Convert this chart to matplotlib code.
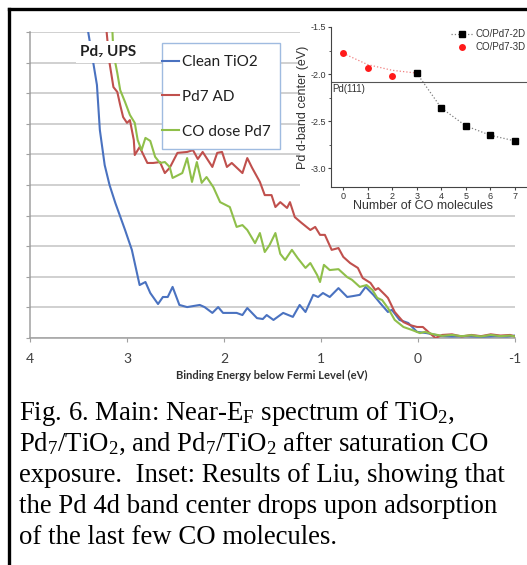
import matplotlib
matplotlib.use("Agg")
import matplotlib.pyplot as plt
from matplotlib.patches import Rectangle
from matplotlib.lines import Line2D

plt.rcParams['mathtext.fontset'] = 'custom'
plt.rcParams['mathtext.rm'] = 'Liberation Serif'
plt.rcParams['mathtext.it'] = 'Liberation Serif:italic'
plt.rcParams['axes.unicode_minus'] = False

W, H = 527, 565

# ---- main UPS spectra (binding energy in eV, intensity in gridline units) ----
clean_x = [3.43, 3.40, 3.31, 3.28, 3.23, 3.18, 3.12, 3.02, 2.95, 2.87,
           2.81, 2.76, 2.68, 2.63, 2.58, 2.53, 2.46, 2.38, 2.25, 2.20,
           2.12, 2.06, 2.01, 1.87, 1.81, 1.76, 1.66, 1.60, 1.56, 1.49,
           1.39, 1.29, 1.22, 1.16, 1.08, 1.03, 0.98, 0.91, 0.82, 0.73,
           0.67, 0.60, 0.54, 0.46, 0.39, 0.31, 0.27, 0.19, 0.10, 0.01,
           -0.09, -0.23, -0.35, -0.50, -0.65, -0.80, -0.92, -1.00]
clean_y = [11.0, 10.0, 8.27, 6.80, 5.65, 5.00, 4.41, 3.53, 2.88, 1.73,
           1.83, 1.47, 1.11, 1.34, 1.34, 1.67, 1.08, 1.01, 1.08, 1.01,
           0.82, 1.01, 0.82, 0.82, 0.75, 0.98, 0.65, 0.62, 0.75, 0.59,
           0.82, 0.69, 1.08, 0.85, 1.41, 1.34, 1.47, 1.34, 1.63, 1.34,
           1.37, 1.41, 1.67, 1.41, 1.14, 0.85, 0.92, 0.59, 0.49, 0.20,
           0.16, 0.07, 0.05, 0.06, 0.04, 0.06, 0.05, 0.08]

pd7_x = [3.24, 3.21, 3.18, 3.14, 3.10, 3.07, 3.04, 3.00, 2.97, 2.93,
         2.92, 2.87, 2.79, 2.73, 2.66, 2.61, 2.56, 2.48, 2.38, 2.32,
         2.27, 2.22, 2.12, 2.07, 2.02, 1.97, 1.92, 1.81, 1.76, 1.71,
         1.63, 1.58, 1.51, 1.47, 1.42, 1.35, 1.32, 1.27, 1.20, 1.11,
         1.06, 1.01, 0.96, 0.89, 0.82, 0.77, 0.70, 0.62, 0.57, 0.49,
         0.44, 0.41, 0.34, 0.31, 0.24, 0.15, 0.08, 0.01, -0.05, -0.12,
         -0.18, -0.25, -0.35, -0.45, -0.55, -0.65, -0.75, -0.85, -0.95, -1.00]
pd7_y = [11.0, 10.0, 8.99, 8.20, 8.04, 7.61, 7.22, 7.03, 7.12, 6.47,
         5.98, 6.24, 5.72, 5.72, 5.75, 5.39, 5.56, 6.05, 6.08, 6.14,
         5.85, 6.08, 5.59, 6.05, 6.08, 5.59, 5.72, 5.39, 5.88, 5.56,
         5.10, 4.67, 4.67, 4.28, 4.44, 4.25, 4.44, 3.95, 3.76, 3.53,
         3.63, 3.37, 3.37, 2.88, 2.94, 2.65, 2.45, 2.29, 1.96, 1.80,
         1.57, 1.63, 1.41, 1.31, 0.85, 0.52, 0.42, 0.36, 0.36, 0.16,
         0.00, 0.10, 0.12, 0.05, 0.10, 0.06, 0.12, 0.08, 0.10, 0.05]

co_x = [3.18, 3.15, 3.14, 3.10, 3.07, 3.02, 2.97, 2.92, 2.89, 2.85,
        2.81, 2.76, 2.71, 2.66, 2.61, 2.56, 2.53, 2.43, 2.38, 2.33,
        2.28, 2.23, 2.18, 2.11, 2.04, 1.94, 1.87, 1.81, 1.76, 1.68,
        1.63, 1.58, 1.53, 1.47, 1.42, 1.37, 1.30, 1.24, 1.16, 1.11,
        1.04, 1.01, 0.97, 0.91, 0.82, 0.73, 0.68, 0.60, 0.53, 0.47,
        0.42, 0.37, 0.31, 0.24, 0.15, 0.06, -0.02, -0.07, -0.15, -0.25,
        -0.35, -0.45, -0.55, -0.65, -0.75, -0.85, -0.95, -1.00]
co_y = [11.0, 10.0, 9.31, 8.66, 8.10, 7.71, 7.29, 7.03, 6.47, 6.14,
        6.54, 6.44, 5.92, 5.72, 5.75, 5.59, 5.23, 5.39, 5.88, 5.10,
        5.75, 5.07, 5.26, 4.93, 4.44, 4.28, 3.63, 3.69, 3.53, 3.10,
        3.43, 2.81, 3.04, 3.43, 2.75, 2.55, 2.88, 2.61, 2.29, 2.45,
        2.06, 1.83, 2.39, 2.22, 2.25, 1.99, 1.90, 1.67, 1.73, 1.57,
        1.31, 1.24, 0.98, 0.59, 0.36, 0.26, 0.16, 0.20, 0.13, 0.07,
        0.10, 0.06, 0.09, 0.05, 0.10, 0.06, 0.08, 0.05]

series_labels = ['Clean TiO2', 'Pd7 AD', 'CO dose Pd7']
series_colors = ['#4a72c0', '#c0504d', '#8fbf4a']
x_ticks = [4, 3, 2, 1, 0, -1]
x_ticklabels = ['4', '3', '2', '1', '0', '-1']

# ---- inset: d-band center vs number of CO ----
n_2d = [3, 4, 5, 6, 7]
d_2d = [-1.99, -2.36, -2.55, -2.65, -2.71]
n_3d = [0, 1, 2]
d_3d = [-1.78, -1.94, -2.02]
fit_3d_n = [0, 1, 2, 3]
fit_3d_d = [-1.78, -1.90, -1.96, -1.99]
pd111 = -2.08
inset_yticks = [-3.0, -2.5, -2.0, -1.5]
inset_xticks = [0, 1, 2, 3, 4, 5, 6, 7]

caption = [
    r'Fig. 6. Main: Near-E$_\mathrm{F}$ spectrum of TiO$_2$,',
    r'Pd$_7$/TiO$_2$, and Pd$_7$/TiO$_2$ after saturation CO',
    'exposure.  Inset: Results of Liu, showing that',
    'the Pd 4d band center drops upon adsorption',
    'of the last few CO molecules.',
]
caption_base = [420, 451, 482, 513, 544]

fig = plt.figure(figsize=(W / 100, H / 100), dpi=100)
fig.patch.set_facecolor('white')

# main axes
ax = fig.add_axes([30 / W, 1 - 338 / H, (515 - 30) / W, (338 - 32) / H])
for xs, ys, c in zip([clean_x, pd7_x, co_x], [clean_y, pd7_y, co_y], series_colors):
    ax.plot(xs, ys, color=c, lw=1.5, zorder=3)
ax.set_xlim(4, -1)
ax.set_ylim(0, 10)
ax.set_yticks(range(0, 11))
ax.set_yticklabels([])
ax.yaxis.grid(True, color='#c4c4c4', lw=1.1)
ax.set_axisbelow(True)
ax.set_xticks(x_ticks)
ax.set_xticklabels(x_ticklabels, fontsize=10, family='Lato', color='#404040')
ax.tick_params(axis='x', length=3, color='#a0a0a0', pad=8)
ax.tick_params(axis='y', length=3, color='#a0a0a0')
for s in ['top', 'right']:
    ax.spines[s].set_visible(False)
for s in ['left', 'bottom']:
    ax.spines[s].set_color('#a0a0a0')
    ax.spines[s].set_linewidth(1.1)

fig.text(272 / W, 1 - 375 / H, 'Binding Energy below Fermi Level (eV)',
         ha='center', va='center', fontsize=8, family='Lato',
         weight='bold', color='#303030')

# main legend (frame drawn by hand)
ax.add_patch(Rectangle((162 / W, 1 - 149 / H), 118 / W, 106 / H,
                       transform=fig.transFigure, facecolor='white',
                       edgecolor='#9fbbe0', lw=1.0, zorder=4, clip_on=False))
handles = [Line2D([], [], color=c, lw=1.5) for c in series_colors]
leg = ax.legend(handles, series_labels, loc='upper left',
                bbox_to_anchor=(162 / W, 1 - 55 / H),
                bbox_transform=fig.transFigure, frameon=False,
                prop={'family': 'Lato', 'size': 11}, handlelength=1.1,
                handletextpad=0.2, labelspacing=1.36, borderpad=0,
                borderaxespad=0)
leg.set_zorder(5)
for t in leg.get_texts():
    t.set_color('#202020')

fig.text(80 / W, 1 - 52 / H, 'Pd\u2087 UPS', ha='left', va='center',
         fontsize=11, weight='bold', family=['Lato', 'DejaVu Sans'],
         color='#202020',
         bbox=dict(facecolor='white', edgecolor='none', pad=3))

# white area behind the inset
fig.patches.append(Rectangle((300 / W, 1 - 212 / H), 227 / W, 202 / H,
                             transform=fig.transFigure, facecolor='white',
                             edgecolor='none', zorder=1))

axin = fig.add_axes([331 / W, 1 - 187 / H, (527 - 331) / W, (187 - 27) / H])
axin.set_zorder(2)
axin.plot(fit_3d_n, fit_3d_d, ls=':', color='#f08080', lw=0.9)
axin.plot(n_2d, d_2d, ls=':', color='#808080', lw=0.9)
axin.plot(n_3d, d_3d, 'o', color='#ff1a1a', ms=5, mec='none')
axin.plot(n_2d, d_2d, 's', color='black', ms=4.5)
axin.axhline(pd111, color='#555555', lw=0.8)
axin.text(-0.46, -2.16, 'Pd(111)', va='center', ha='left', fontsize=7,
          family='Liberation Sans', color='#333333')
axin.set_xlim(-0.5, 7.5)
axin.set_ylim(-3.2, -1.5)
axin.set_yticks(inset_yticks)
axin.set_yticklabels(['%.1f' % v for v in inset_yticks])
axin.set_yticks([-3.25 + 0.5 * i for i in range(1, 4)], minor=True)
axin.set_xticks(inset_xticks)
for s in ['top', 'right']:
    axin.spines[s].set_visible(False)
for s in ['left', 'bottom']:
    axin.spines[s].set_color('#444444')
    axin.spines[s].set_linewidth(0.8)
axin.tick_params(which='both', direction='out', length=2, color='#444444',
                 labelsize=6.5, labelcolor='#333333', pad=1.5)
axin.tick_params(which='minor', length=1.5)
for t in axin.get_xticklabels() + axin.get_yticklabels():
    t.set_family('Liberation Sans')

fig.text(303 / W, 1 - 107 / H, 'Pd d-band center (eV)', rotation=90,
         ha='center', va='center', fontsize=9, family='Liberation Sans',
         color='#333333', zorder=4)
fig.text(423 / W, 1 - 206 / H, 'Number of CO molecules', ha='center',
         va='center', fontsize=9, family='Liberation Sans', color='#333333',
         zorder=4)

in_handles = [Line2D([], [], ls=':', color='#808080', marker='s',
                     mfc='black', mec='black', ms=4.5, lw=0.9),
              Line2D([], [], ls='none', marker='o', color='#ff1a1a',
                     mec='none', ms=5)]
axin.legend(in_handles, ['CO/Pd7-2D', 'CO/Pd7-3D'], loc='upper right',
            bbox_to_anchor=(526 / W, 1 - 29 / H),
            bbox_transform=fig.transFigure, frameon=False,
            prop={'family': 'Liberation Sans', 'size': 7},
            handlelength=2.3, handletextpad=0.3, labelspacing=0.35,
            borderpad=0, borderaxespad=0, labelcolor='#333333')

# caption
for line, yb in zip(caption, caption_base):
    fig.text(19 / W, 1 - yb / H, line, ha='left', va='baseline',
             fontsize=19.3, family='Liberation Serif', color='black')

# outer frame
fig.lines.append(Line2D([9 / W, 1.0], [1 - 9 / H, 1 - 9 / H],
                        transform=fig.transFigure, color='black', lw=2.4,
                        zorder=6))
fig.lines.append(Line2D([9 / W, 9 / W], [1 - 9 / H, 0],
                        transform=fig.transFigure, color='black', lw=2.4,
                        zorder=6))

fig.savefig('out.png', dpi=100)
